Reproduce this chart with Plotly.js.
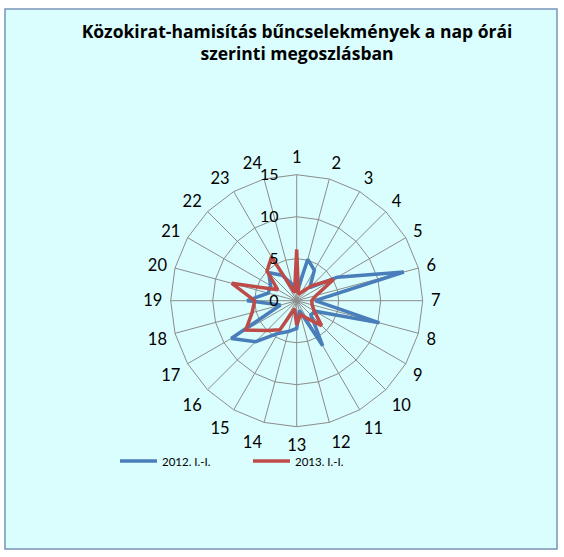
<!DOCTYPE html>
<html>
<head>
<meta charset="utf-8">
<script src="https://cdn.plot.ly/plotly-3.0.1.min.js"></script>
<style>
html,body{margin:0;padding:0;background:#ffffff;}
#chart{width:564px;height:557px;}
</style>
</head>
<body>
<div id="chart"></div>
<script>
// Categories: hours of the day
const hours = ["1","2","3","4","5","6","7","8","9","10","11","12","13","14","15","16","17","18","19","20","21","22","23","24"];
// Series values
const series2012 = [1.0, 5.1, 4.2, 2.2, 5.6, 13.2, 2.2, 10.2, 2.5, 2.4, 6.2, 1.2, 3.3, 3.8, 4.5, 6.9, 9.0, 2.0, 5.9, 3.5, 3.6, 4.7, 3.5, 2.0];
const series2013 = [6.1, 0.8, 1.2, 2.5, 5.1, 2.4, 1.8, 1.9, 2.4, 4.2, 2.4, 1.7, 2.9, 1.0, 4.0, 5.0, 7.0, 5.5, 5.0, 8.0, 2.6, 5.0, 6.0, 1.0];
const seriesNames = ["2012. I.-I.", "2013. I.-I."];
const radialTicks = [0, 5, 10, 15];
const titleText = "Közokirat-hamisítás bűncselekmények a nap órái<br>szerinti megoszlásban";

const W = 564, H = 557;
const cx = 296.7, cy = 300.7, R = 126;

function closed(arr){ return arr.concat([arr[0]]); }

const traces = [
  {type:'scatterpolar', mode:'lines', name:seriesNames[0],
   r: closed(series2012), theta: closed(hours),
   line:{color:'#4a7ebb', width:3.5}},
  {type:'scatterpolar', mode:'lines', name:seriesNames[1],
   r: closed(series2013), theta: closed(hours),
   line:{color:'#be4b48', width:3.5}}
];

const layout = {
  width: W, height: H,
  margin:{l:0,r:0,t:0,b:0},
  paper_bgcolor:'#ffffff',
  font:{family:'Lato, "Open Sans", sans-serif', color:'#000000'},
  title:{text:titleText, x:297/W, xanchor:'center', y:1-37.5/H, yanchor:'top', yref:'container', xref:'paper',
         font:{size:17.5, family:'"Open Sans", Lato, sans-serif', weight:'bold', color:'#000000'}},
  shapes:[{type:'rect', xref:'paper', yref:'paper', x0:5/W, x1:557/W, y0:(H-549)/H, y1:(H-9)/H,
           fillcolor:'#dafdfd', line:{color:'#7894b8', width:1.5}, layer:'below'}],
  polar:{
    domain:{x:[(cx-R)/W,(cx+R)/W], y:[(H-cy-R)/H,(H-cy+R)/H]},
    bgcolor:'rgba(0,0,0,0)',
    gridshape:'linear',
    radialaxis:{range:[0,15], tickvals:radialTicks, ticktext:radialTicks.map(String), angle:90, tickangle:90,
                side:'counterclockwise', showline:false, ticks:'outside', ticklen:12, tickcolor:'rgba(0,0,0,0)',
                gridcolor:'#8c8c8c', gridwidth:1,
                tickfont:{size:16, color:'#000000'}},
    angularaxis:{type:'category', categoryarray:hours, rotation:90, direction:'clockwise',
                 showline:true, linecolor:'#8c8c8c', linewidth:1, gridcolor:'#8c8c8c', gridwidth:1,
                 ticks:'outside', ticklen:4.5, tickcolor:'rgba(0,0,0,0)',
                 tickfont:{size:16.5, color:'#000000'}}
  },
  showlegend:true,
  legend:{orientation:'h', x:115/W, xanchor:'left', y:(H-461)/H, yanchor:'middle', itemwidth:37,
          bgcolor:'rgba(0,0,0,0)', font:{size:11.5, color:'#000000'}, entrywidth:81, entrywidthmode:'pixels'}
};

Plotly.newPlot('chart', traces, layout, {displayModeBar:false, staticPlot:true});
</script>
</body>
</html>
